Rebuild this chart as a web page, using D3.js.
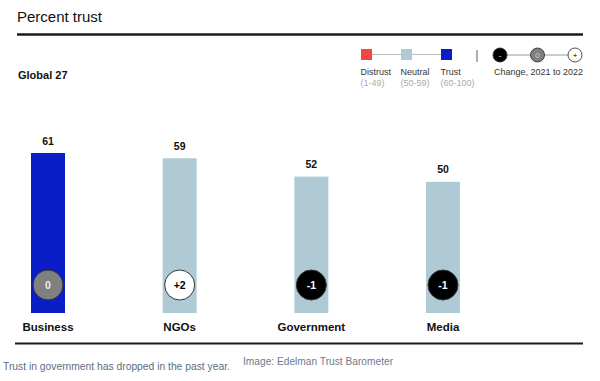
<!DOCTYPE html>
<html>
<head>
<meta charset="utf-8">
<script src="https://cdn.jsdelivr.net/npm/d3@7"></script>
<style>
  body { margin: 0; background: #fff; }
  svg { display: block; }
  text { font-family: "Liberation Sans", Arial, sans-serif; }
</style>
</head>
<body>
<div id="chart"></div>
<script>
// Data
var categories = ["Business", "NGOs", "Government", "Media"];
var trustValues = [61, 59, 52, 50];
var changeValues = [0, 2, -1, -1];

var legendBands = ["Distrust", "Neutral", "Trust"];
var legendRanges = ["(1-49)", "(50-59)", "(60-100)"];
var legendChanges = ["-", "0", "+"];

// Basic setup
var width = 600,
    height = 381;

var colors = {
  Distrust: "#f2473d",
  Neutral: "#afc9d5",
  Trust: "#0a1ec8"
};

function band(v) {
  if (v < 50) return "Distrust";
  if (v < 60) return "Neutral";
  return "Trust";
}

var svg = d3.select("#chart").append("svg")
    .attr("width", width)
    .attr("height", height);

// Title and rules
svg.append("text")
    .attr("x", 17)
    .attr("y", 22)
    .attr("font-size", 15)
    .attr("fill", "#111")
    .text("Percent trust");

svg.append("line")
    .attr("x1", 17).attr("x2", 583)
    .attr("y1", 34.5).attr("y2", 34.5)
    .attr("stroke", "#1a1a1a")
    .attr("stroke-width", 2.5);

svg.append("text")
    .attr("x", 18)
    .attr("y", 78.5)
    .attr("font-size", 11)
    .attr("font-weight", "bold")
    .attr("fill", "#111")
    .text("Global 27");

// Legend: colour bands
var legendX = d3.scalePoint()
    .domain(legendBands)
    .range([366.5, 446.5]);

var legend = svg.append("g");

legend.append("line")
    .attr("x1", legendX("Distrust")).attr("x2", legendX("Trust"))
    .attr("y1", 54.5).attr("y2", 54.5)
    .attr("stroke", "#bbb");

legend.selectAll("rect.key")
    .data(legendBands)
  .enter().append("rect")
    .attr("class", "key")
    .attr("x", function(d) { return legendX(d) - 5.5; })
    .attr("y", 49)
    .attr("width", 11)
    .attr("height", 11)
    .attr("fill", function(d) { return colors[d]; });

legend.selectAll("text.name")
    .data(legendBands)
  .enter().append("text")
    .attr("class", "name")
    .attr("x", function(d) { return legendX(d) - 6; })
    .attr("y", 75)
    .attr("font-size", 9)
    .attr("fill", "#333")
    .text(function(d) { return d; });

legend.selectAll("text.range")
    .data(legendRanges)
  .enter().append("text")
    .attr("class", "range")
    .attr("x", function(d, i) { return legendX(legendBands[i]) - 6; })
    .attr("y", 85.5)
    .attr("font-size", 9)
    .attr("fill", "#aaa")
    .text(function(d) { return d; });

legend.append("line")
    .attr("x1", 477).attr("x2", 477)
    .attr("y1", 50).attr("y2", 62)
    .attr("stroke", "#777")
    .attr("stroke-width", 1.2);

// Legend: change circles
var changeX = d3.scalePoint()
    .domain(legendChanges)
    .range([500, 575]);

var circleFill = { "-": "#000", "0": "#7f8080", "+": "#fff" };
var circleText = { "-": "#fff", "0": "#ccc", "+": "#000" };

legend.append("line")
    .attr("x1", changeX("-")).attr("x2", changeX("+"))
    .attr("y1", 55).attr("y2", 55)
    .attr("stroke", "#999");

legend.selectAll("circle.change")
    .data(legendChanges)
  .enter().append("circle")
    .attr("class", "change")
    .attr("cx", function(d) { return changeX(d); })
    .attr("cy", 55)
    .attr("r", 7)
    .attr("fill", function(d) { return circleFill[d]; })
    .attr("stroke", "#222")
    .attr("stroke-width", 0.8);

legend.selectAll("text.change")
    .data(legendChanges)
  .enter().append("text")
    .attr("class", "change")
    .attr("x", function(d) { return changeX(d); })
    .attr("y", 58)
    .attr("text-anchor", "middle")
    .attr("font-size", 8)
    .attr("fill", function(d) { return circleText[d]; })
    .text(function(d) { return d; });

legend.append("text")
    .attr("x", 494)
    .attr("y", 75)
    .attr("font-size", 9)
    .attr("fill", "#333")
    .text("Change, 2021 to 2022");

// Bars
var x = d3.scalePoint()
    .domain(categories)
    .range([48, 443]);

var y = d3.scaleLinear()
    .domain([0, 61])
    .range([313, 153]);

var barWidth = 34;

var data = categories.map(function(c, i) {
  return { name: c, value: trustValues[i], change: changeValues[i] };
});

var g = svg.append("g");

g.selectAll("rect.bar")
    .data(data)
  .enter().append("rect")
    .attr("class", "bar")
    .attr("x", function(d) { return x(d.name) - barWidth / 2; })
    .attr("y", function(d) { return y(d.value); })
    .attr("width", barWidth)
    .attr("height", function(d) { return y(0) - y(d.value); })
    .attr("fill", function(d) { return colors[band(d.value)]; });

g.selectAll("text.value")
    .data(data)
  .enter().append("text")
    .attr("class", "value")
    .attr("x", function(d) { return x(d.name); })
    .attr("y", function(d) { return y(d.value) - 8.5; })
    .attr("text-anchor", "middle")
    .attr("font-size", 10.5)
    .attr("font-weight", "bold")
    .attr("fill", "#111")
    .text(function(d) { return d.value; });

function changeKey(v) {
  return v < 0 ? "-" : (v > 0 ? "+" : "0");
}

g.selectAll("circle.delta")
    .data(data)
  .enter().append("circle")
    .attr("class", "delta")
    .attr("cx", function(d) { return x(d.name); })
    .attr("cy", 285)
    .attr("r", 15)
    .attr("fill", function(d) { return circleFill[changeKey(d.change)]; })
    .attr("stroke", "#333")
    .attr("stroke-width", 1);

g.selectAll("text.delta")
    .data(data)
  .enter().append("text")
    .attr("class", "delta")
    .attr("x", function(d) { return x(d.name); })
    .attr("y", 289)
    .attr("text-anchor", "middle")
    .attr("font-size", 10.5)
    .attr("font-weight", "bold")
    .attr("fill", function(d) { return d.change === 0 ? "#eee" : circleText[changeKey(d.change)]; })
    .text(function(d) { return d.change > 0 ? "+" + d.change : d.change; });

g.selectAll("text.cat")
    .data(data)
  .enter().append("text")
    .attr("class", "cat")
    .attr("x", function(d) { return x(d.name); })
    .attr("y", 331)
    .attr("text-anchor", "middle")
    .attr("font-size", 11.5)
    .attr("font-weight", "bold")
    .attr("fill", "#111")
    .text(function(d) { return d.name; });

svg.append("line")
    .attr("x1", 15).attr("x2", 583)
    .attr("y1", 343.5).attr("y2", 343.5)
    .attr("stroke", "#1a1a1a")
    .attr("stroke-width", 2);

// Caption
svg.append("text")
    .attr("x", 3)
    .attr("y", 370)
    .attr("font-family", "'Open Sans', sans-serif")
    .attr("font-size", 10.3)
    .attr("fill", "#5d6d82")
    .text("Trust in government has dropped in the past year.");

svg.append("text")
    .attr("x", 243)
    .attr("y", 364.5)
    .attr("font-family", "'Open Sans', sans-serif")
    .attr("font-size", 10.2)
    .attr("fill", "#6d7a8c")
    .text("Image: Edelman Trust Barometer");
</script>
</body>
</html>
